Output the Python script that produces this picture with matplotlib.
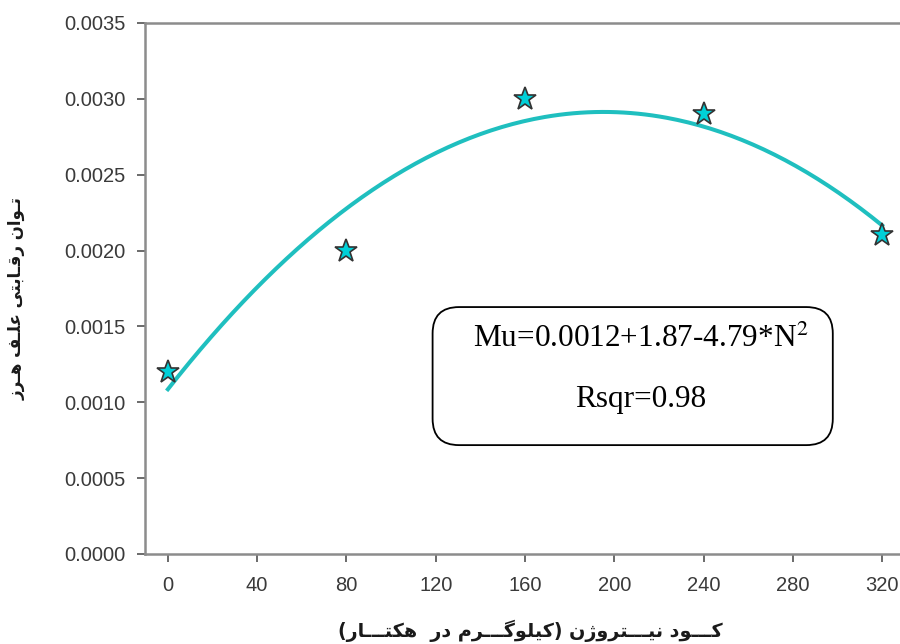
import numpy as np
import matplotlib
matplotlib.use('Agg')
import matplotlib.pyplot as plt
from matplotlib.ticker import FormatStrFormatter
from matplotlib.patches import FancyBboxPatch

# داده‌ها (از روی شکل خوانده شده)
nitrogen = [0, 80, 160, 240, 320]
weed_power = [0.0012, 0.0020, 0.0030, 0.0029, 0.0021]
x_ticks = [0, 40, 80, 120, 160, 200, 240, 280, 320]
y_ticks = [0.0, 0.0005, 0.0010, 0.0015, 0.0020, 0.0025, 0.0030, 0.0035]
eq_text = 'Mu=0.0012+1.87-4.79*N$^2$'
r2_text = 'Rsqr=0.98'
x_label = 'کـــود نیـــتروژن (کیلوگـــرم در  هکتـــار)'
y_label = 'تـوان رقـابتی علـف هـرز'

# matplotlib حروف عربی/فارسی را به هم نمی‌چسباند، پس شکل‌های نمایشی را خودمان می‌سازیم
FORMS = {
    'ا': ('\uFE8D', '\uFE8E', None, None),
    'ب': ('\uFE8F', '\uFE90', '\uFE91', '\uFE92'),
    'ت': ('\uFE95', '\uFE96', '\uFE97', '\uFE98'),
    'د': ('\uFEA9', '\uFEAA', None, None),
    'ر': ('\uFEAD', '\uFEAE', None, None),
    'ز': ('\uFEAF', '\uFEB0', None, None),
    'ژ': ('\uFB8A', '\uFB8B', None, None),
    'ع': ('\uFEC9', '\uFECA', '\uFECB', '\uFECC'),
    'ف': ('\uFED1', '\uFED2', '\uFED3', '\uFED4'),
    'ق': ('\uFED5', '\uFED6', '\uFED7', '\uFED8'),
    'ک': ('\uFB8E', '\uFB8F', '\uFB90', '\uFB91'),
    'گ': ('\uFB92', '\uFB93', '\uFB94', '\uFB95'),
    'ل': ('\uFEDD', '\uFEDE', '\uFEDF', '\uFEE0'),
    'م': ('\uFEE1', '\uFEE2', '\uFEE3', '\uFEE4'),
    'ن': ('\uFEE5', '\uFEE6', '\uFEE7', '\uFEE8'),
    'ه': ('\uFEE9', '\uFEEA', '\uFEEB', '\uFEEC'),
    'و': ('\uFEED', '\uFEEE', None, None),
    'ی': ('\uFBFC', '\uFBFD', '\uFBFE', '\uFBFF'),
}
TATWEEL = '\u0640'


def joins_left(ch):
    # آیا این حرف به حرف بعدی وصل می‌شود
    return ch == TATWEEL or (ch in FORMS and FORMS[ch][2] is not None)


def joins_right(ch):
    return ch == TATWEEL or ch in FORMS


def shape(text):
    out = []
    for i, ch in enumerate(text):
        if ch not in FORMS:
            out.append(ch)
            continue
        prev = text[i - 1] if i > 0 else ''
        nxt = text[i + 1] if i + 1 < len(text) else ''
        p = joins_left(prev) if prev else False
        n = joins_right(nxt) and FORMS[ch][2] is not None if nxt else False
        iso, fin, ini, med = FORMS[ch]
        if p and n:
            out.append(med)
        elif p:
            out.append(fin)
        elif n:
            out.append(ini)
        else:
            out.append(iso)
    swap = {'(': ')', ')': '('}
    return ''.join(swap.get(c, c) for c in reversed(out))


plt.rcParams['font.family'] = ['Liberation Sans', 'DejaVu Sans']
plt.rcParams['mathtext.fontset'] = 'stix'

fig = plt.figure(figsize=(9, 6.44), dpi=100)
ax = fig.add_axes([0.161, 0.1398, 0.839, 0.8245])

# منحنی درجه دوم برازش شده
coef = np.polyfit(nitrogen, weed_power, 2)
xs = np.linspace(0, 320, 200)
ax.plot(xs, np.polyval(coef, xs), color='#1fbfbf', lw=2.9, zorder=2)

ax.plot(nitrogen, weed_power, linestyle='none', marker='*', markersize=17,
        markerfacecolor='#00d0d8', markeredgecolor='#333333', markeredgewidth=1.2,
        zorder=3, clip_on=False)

ax.set_xlim(-10.3, 328)
ax.set_ylim(0, 0.0035)
ax.set_xticks(x_ticks)
ax.set_yticks(y_ticks)
ax.yaxis.set_major_formatter(FormatStrFormatter('%.4f'))

for side in ['left', 'top', 'bottom']:
    ax.spines[side].set_color('#8c8c8c')
    ax.spines[side].set_linewidth(1.8)
ax.spines['right'].set_visible(False)
ax.tick_params(axis='both', direction='out', length=6, width=1.4, color='#6a6a6a',
               labelsize=14.5, labelcolor='#3a3a3a')
ax.tick_params(axis='y', pad=8)
ax.tick_params(axis='x', pad=10)

# برچسب محورها
fig.text(0.589, 0.021, shape(x_label), ha='center', va='center', fontsize=13.8,
         family='DejaVu Sans', fontweight='bold', color='#1a1a1a')
fig.text(0.018, 0.537, shape(y_label), ha='center', va='center', rotation=90,
         fontsize=12, family='DejaVu Sans', fontweight='bold', color='#1a1a1a')

# کادر معادله
box = FancyBboxPatch((0.381, 0.205), 0.530, 0.260, transform=ax.transAxes,
                     boxstyle='round,pad=0,rounding_size=0.035', mutation_aspect=1.42,
                     facecolor='white', edgecolor='black', lw=1.3, zorder=4)
ax.add_patch(box)
ax.text(0.656, 0.405, eq_text, transform=ax.transAxes, ha='center', va='center',
        fontsize=22.5, family='Liberation Serif', zorder=5)
ax.text(0.656, 0.29, r2_text, transform=ax.transAxes, ha='center', va='center',
        fontsize=22.5, family='Liberation Serif', zorder=5)

fig.savefig('out.png', dpi=100)
